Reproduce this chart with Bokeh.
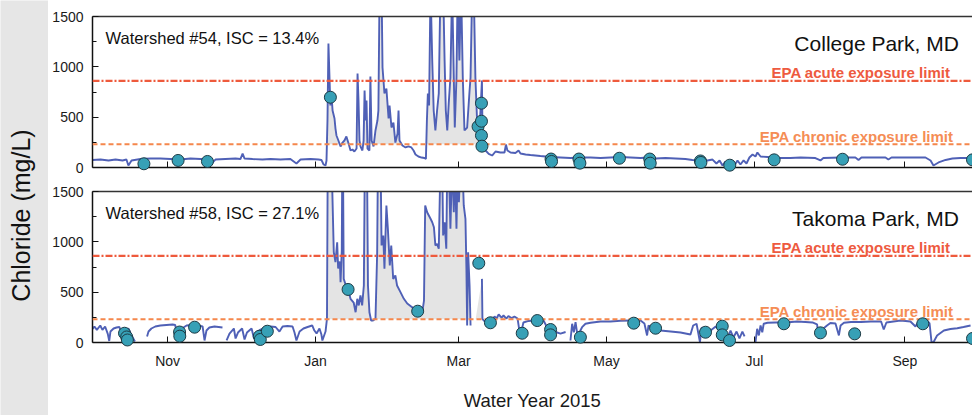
import numpy as np
from bokeh.plotting import figure
from bokeh.layouts import row, column
from bokeh.models import Range1d, FixedTicker, LinearAxis, Label, Span, ColumnDataSource
from bokeh.embed import file_html
from bokeh.resources import INLINE

FONT = "Liberation Sans"
NAN = float("nan")

# x values: days since 1 Oct 2014 (start of Water Year 2015)
month_ticks = [31, 92, 151, 212, 273, 335]
month_labels = ["Nov", "Jan", "Mar", "May", "Jul", "Sep"]

ACUTE = 860
CHRONIC = 230

# ---------- Watershed #54, College Park (continuous record, mg/L) ----------
cp_days = [0.0, 3.3, 6.6, 9.5, 12.4, 14.0, 14.8, 16.1, 19.8, 23.9, 28.0, 32.2, 36.3, 40.4, 44.5, 47.8,
           49.5, 50.7, 54.8, 59.0, 61.0, 61.9, 62.7, 66.0, 70.1, 73.4, 77.5, 81.6, 84.1, 85.8, 89.9, 93.2,
           94.4, 95.3, 96.1, 96.5,
           96.9, 97.3, 97.9, 98.1, 98.6, 99.0, 99.8, 100.2, 100.6, 101.4, 102.3, 103.1, 103.9, 104.7, 105.6,
           106.4, 107.2, 108.0, 108.9, 109.3, 109.7, 110.1, 110.5, 111.3, 111.8, 112.2, 112.6, 113.0, 113.4,
           114.2, 114.6, 115.1, 115.9, 116.7, 117.5, 117.9, 118.4, 119.2, 119.6, 120.4, 121.2, 122.1, 122.5,
           123.3, 124.1, 124.9, 125.8, 126.2, 126.6, 127.8, 129.1, 130.3, 131.5, 132.4, 133.2, 134.4, 135.7,
           136.9, 137.5,
           137.9, 138.3, 138.8, 139.4, 140.1, 140.7, 141.4, 142.1, 142.8, 143.5, 144.6, 145.2, 145.7, 146.3,
           146.9, 147.6, 148.3, 149.0, 149.4, 150.1, 150.6, 151.3, 152.0, 152.7, 153.4, 154.5, 155.5, 155.9,
           156.6, 157.2, 157.9, 158.6, 159.3, 160.0, 160.6, 160.9, 162.1, 163.4, 164.8,
           166.2, 168.2, 169.9, 170.5, 171.1, 172.4, 174.4, 175.7, 176.5, 178.6, 180.6, 184.7, 188.9, 193.0,
           197.1, 201.2, 205.4, 209.5, 213.6, 217.7, 221.9, 226.0, 229.3, 232.2, 236.3, 240.4, 244.5, 247.4,
           250.7, 253.6, 255.7, 257.3, 258.6, 259.8, 261.0, 262.3, 263.5, 264.7, 266.0, 267.2, 268.5, 269.7,
           270.9, 272.2, 273.4, 274.2, 275.5, 278.4, 281.6, 287.8, 292.0, 298.1, 300.2, 301.4, 308.5, 314.6,
           315.9, 317.1, 327.0, 328.2, 329.5, 337.3, 343.5, 345.6, 346.8, 348.9, 351.8, 354.6, 357.9, 360.4,
           362.9]
cp_cl = [75, 79, 70, 79, 70, 79, 20, 70, 84, 89, 89, 84, 79, 89, 84, 79,
         50, 79, 84, 89, 84, 139, 89, 84, 79, 84, 79, 84, 40, 79, 84, 79,
         75, 30, 20, 70,
         467, 1232, 765, 616, 705, 566, 487, 387, 318, 268, 209, 248, 268, 308, 238,
         169, 179, 159, 189, 934, 666, 268, 209, 169, 268, 765, 467, 666, 189,
         169, 904, 268, 209, 368, 467, 566, 1800, 1800, 993, 735, 785, 487, 616,
         397, 447, 248, 338, 566, 268, 219, 199, 209, 199, 169, 129, 109, 99,
         94, 84,
         467, 735, 616, 1800, 1063, 566, 368, 566, 735, 1800, 1800, 1063, 566, 368,
         636, 894, 1800, 894, 397, 894, 1800, 1063, 1800, 894, 368, 397, 765, 894,
         1800, 1800, 894, 467, 268, 566, 864, 169, 169, 136, 119,
         159, 149, 149, 228, 169, 149, 144, 169, 139, 129, 124, 114, 104, 99,
         94, 99, 99, 94, 99, 104, 99, 94, 99, 89, 94, 89, 84, 75,
         70, 70, 79, 40, 70, 20, 60, 10, 50, 20, 70, 30, 70, 40,
         99, 129, 109, 149, 109, 104, 94, 94, 99, 94, 70, 94, 99, 99,
         75, 99, 99, 79, 99, 99, 99, 70, 20, 50, 75, 89, 94, 94,
         99]
cp_sample_days = [21.2, 35.3, 47.4, 98.1, 159.0, 160.4, 160.4, 160.4, 160.6, 189.1, 189.3, 200.6, 201.0,
                  217.3, 229.8, 230.0, 250.7, 250.9, 262.8, 281.1, 309.3, 362.9]
cp_sample_cl = [37, 70, 60, 698, 407, 639, 460, 318, 212, 84, 60, 84, 43,
                92, 84, 43, 65, 50, 23, 76, 82, 76]

# ---------- Watershed #58, Takoma Park (continuous record with gaps, mg/L) ----------
tp_days = [0.0, 0.8, 1.8, 3.2, 4.1, 5.2, 6.3, 6.9, 7.4, 8.7, 9.9, 11.1, 12.0, 12.8, 13.6, 14.8, 16.1, 17.5,
           20.0,
           22.5, 23.1, 24.3, 25.9, 28.0, 30.5, 33.0, 34.1, 34.6, 35.5, 36.3, 37.5, 38.8, 41.2, 43.7, 45.4,
           46.2, 47.0, 48.2, 50.3, 52.0, 53.6,
           54.5,
           55.3, 56.5, 58.3, 59.0, 60.0, 61.7, 62.7, 63.7, 65.6, 66.6, 67.6, 69.3, 71.3, 73.4, 75.5, 77.1,
           78.4, 80.4, 82.5, 83.3, 84.1, 85.4, 87.0, 88.7, 90.6, 91.5, 92.4, 93.6, 94.4, 94.8, 96.1, 96.7,
           97.0, 98.6, 99.5, 100.2, 100.9, 101.3, 102.0, 102.3, 102.8, 103.0, 103.3, 103.6, 104.5, 105.4,
           106.4, 107.7, 108.5, 109.2, 109.8, 110.5, 111.2, 111.9, 112.3, 113.2, 113.6, 114.2, 114.9, 115.7,
           116.7, 117.4, 117.7, 118.8, 119.2, 119.9, 120.4, 121.2, 121.8, 122.6, 123.2, 124.0, 124.9, 125.6,
           127.0, 128.4, 129.8, 131.8, 133.9, 136.0, 136.7, 137.2, 138.0, 138.7, 139.4, 140.1, 140.8, 141.4,
           142.1, 142.8, 143.5, 144.2, 144.6, 145.2, 145.9, 146.3, 146.9, 147.6, 148.3, 149.0, 149.4, 150.1,
           150.6, 151.1, 151.8, 152.5, 153.1, 153.8, 154.2, 154.5, 154.9, 155.5, 155.9,
           158.0,
           160.6, 160.8, 161.4, 162.1, 162.5, 164.1, 165.8, 166.6, 167.5, 168.7, 169.5, 170.7, 171.5, 172.8,
           174.0, 175.3, 176.1, 176.7, 177.7, 179.8, 181.9, 183.9, 186.0, 187.5, 188.5, 189.7, 191.0, 193.0,
           195.1,
           196.0,
           197.1, 197.8, 198.5, 199.2, 200.1, 201.2, 201.9, 203.3, 205.4, 209.5, 213.6, 217.7, 221.9, 226.0,
           227.6, 228.7, 229.3, 230.9, 232.6, 234.3, 238.4, 242.5, 246.6, 247.7, 249.1, 250.5, 251.2, 252.9,
           254.9, 257.0, 258.2, 259.4, 260.6, 261.9, 263.1, 264.3, 265.6, 266.8, 268.0, 268.9,
           271.0,
           273.4, 274.1, 274.8, 275.5, 276.2, 276.8, 278.4, 281.6, 285.8, 290.6, 294.0, 296.9, 298.8, 299.5,
           300.2, 301.4, 302.9, 304.3, 306.4, 307.8, 308.5, 309.9, 312.8, 316.9, 321.0, 325.2, 326.3, 327.4,
           330.3, 333.2, 337.3, 339.4, 340.6, 344.2, 345.2, 346.0, 346.8, 348.3, 351.1, 353.8, 356.6, 359.2,
           362.1]
tp_cl = [134, 159, 126, 169, 126, 159, 86, 15, 109, 139, 149, 154, 89, 50, 119, 139, 70, 10,
         NAN,
         60, 109, 139, 159, 169, 174, 179, 174, 109, 60, 89, 149, 169, 174, 169, 159,
         20, 119, 149, 159, 154, 149,
         NAN,
         20, 89, 139, 40, 99, 139, 30, 99, 139, 40, 99, 129, 149, 159, 154, 109,
         159, 164, 159, 99, 20, 109, 139, 154, 169, 119, 89, 139, 79, 20, 109, 238,
         1800, 1800, 897, 798, 996, 735, 805, 599, 914, 1800, 1800, 632, 566, 527,
         434, 397, 301, 434, 368, 467, 368, 566, 1800, 1800, 566, 301, 218, 218,
         235, 897, 1800, 1800, 964, 1063, 732, 1361, 1133, 765, 964, 632, 666, 566,
         500, 434, 387, 351, 318, 301, 417, 1361, 1294, 1262, 1229, 1195, 1145, 964,
         980, 931, 1800, 1800, 1063, 1195, 931, 1800, 1800, 1130, 1800, 1294, 1800, 1130,
         1800, 1394, 1800, 1800, 1361, 1229, 732, 169, 897, 566, 169,
         NAN,
         632, 235, 218, 209, 199, 202, 258, 238, 278, 248, 268, 238, 263, 243,
         258, 238, 109, 89, 199, 214, 218, 224, 218, 149, 119, 99, 104, 89,
         104,
         NAN,
         20, 186, 102, 202, 53, 119, 152, 186, 196, 209, 209, 216, 218, 218,
         189, 70, 169, 149, 129, 119, 109, 99, 79, 169, 186, 3, 149, 129,
         119, 159, 129, 89, 129, 40, 119, 50, 109, 40, 109, 60,
         NAN,
         3, 136, 70, 169, 102, 186, 196, 199, 199, 209, 204, 199, 179, 37,
         109, 139, 169, 194, 189, 70, 169, 196, 204, 204, 209, 209, 129, 199,
         209, 218, 209, 159, 209, 218, 189, 3, 3, 70, 119, 134, 142, 154,
         169]
tp_sample_days = [13.2, 14.1, 14.4, 35.9, 36.0, 42.1, 68.8, 69.2, 72.1, 105.4, 134.1, 159.3, 164.1,
                  177.2, 183.4, 188.9, 188.9, 201.2, 223.2, 232.2, 252.8, 259.7, 259.7, 262.7,
                  285.1, 300.2, 314.3, 342.4, 362.9]
tp_sample_cl = [92, 55, 25, 104, 63, 152, 62, 30, 112, 527, 311, 788, 196,
                92, 218, 129, 76, 53, 192, 142, 102, 162, 76, 20,
                186, 96, 86, 186, 40]

LINE_C = "#4f60b6"
DOT_FILL = "#37a0b6"
DOT_LINE = "#1d3a44"
ACUTE_C = "#ee5a3c"
CHRONIC_C = "#f5874c"
ACUTE_T = "#ee5a40"
CHRONIC_T = "#f58d55"

X_END = 362.9


def panel(days, cl, sdays, scl, watershed, place, bottom):
    p = figure(frame_width=880, frame_height=151,
               x_range=Range1d(0, X_END), y_range=Range1d(0, 1500),
               output_backend="svg", toolbar_location=None,
               min_border_left=44, min_border_right=0,
               min_border_top=12 if bottom else 16,
               min_border_bottom=73 if bottom else 12,
               background_fill_color="white", border_fill_color="white",
               outline_line_color=None)
    p.grid.visible = False

    d = np.array(days, dtype=float)
    c = np.array(cl, dtype=float)
    top = np.where(np.isnan(c), CHRONIC, np.maximum(c, CHRONIC))
    src = ColumnDataSource(dict(d=d, c=c, top=top, base=np.full(len(d), CHRONIC)))
    p.varea(x="d", y1="base", y2="top", source=src, fill_color="#e4e4e4", fill_alpha=1.0)
    p.line(x="d", y="c", source=src, line_color=LINE_C, line_width=1.9)

    p.add_layout(Span(location=ACUTE, dimension="width", line_color=ACUTE_C,
                      line_width=2.2, line_dash="7 2 2 2"))
    p.add_layout(Span(location=CHRONIC, dimension="width", line_color=CHRONIC_C,
                      line_width=2.0, line_dash="5 3"))

    r = p.scatter(x=sdays, y=scl, size=12, fill_color=DOT_FILL, line_color=DOT_LINE, line_width=1)
    r.level = "overlay"

    # axes
    yax = p.yaxis[0]
    yax.ticker = FixedTicker(ticks=[0, 500, 1000, 1500], minor_ticks=[250, 750, 1250])
    xax = p.xaxis[0]
    xax.ticker = FixedTicker(ticks=month_ticks, minor_ticks=[])
    for ax in (xax, yax):
        ax.major_tick_in = 6
        ax.major_tick_out = 0
        ax.minor_tick_in = 4
        ax.minor_tick_out = 0
        ax.axis_line_color = "#111111"
        ax.axis_line_width = 1.5
        ax.major_tick_line_color = "#111111"
        ax.minor_tick_line_color = "#111111"
        ax.major_label_text_font = FONT
        ax.major_label_text_font_size = "14px"
        ax.major_label_text_color = "#1a1a1a"
    yax.major_label_standoff = 9
    if bottom:
        xax.major_label_overrides = {t: l for t, l in zip(month_ticks, month_labels)}
        xax.major_label_standoff = 10
        xax.axis_label = "Water Year 2015"
        xax.axis_label_text_font = FONT
        xax.axis_label_text_font_size = "18.5px"
        xax.axis_label_text_font_style = "normal"
        xax.axis_label_text_color = "#1a1a1a"
        xax.axis_label_standoff = 18
    else:
        xax.major_label_text_color = None
        xax.major_label_text_font_size = "1px"
        xax.major_label_standoff = 0

    topax = LinearAxis(ticker=FixedTicker(ticks=[]), major_tick_in=0, major_tick_out=0,
                       minor_tick_in=0, minor_tick_out=0, major_label_standoff=0,
                       major_label_text_color=None, major_label_text_font_size="1px",
                       axis_line_color="#333333", axis_line_width=1.5)
    p.add_layout(topax, "above")

    p.add_layout(Label(x=5.4, y=1282, text=watershed, text_font=FONT, text_font_size="16.5px",
                       text_align="left", text_baseline="alphabetic", text_color="#111111"))
    p.add_layout(Label(x=357.3, y=1234, text=place, text_font=FONT, text_font_size="21px",
                       text_align="right", text_baseline="alphabetic", text_color="#111111"))
    p.add_layout(Label(x=353.8, y=947, text="EPA acute exposure limit", text_font=FONT,
                       text_font_size="15px", text_font_style="bold",
                       text_align="right", text_baseline="alphabetic", text_color=ACUTE_T))
    p.add_layout(Label(x=355.1, y=305, text="EPA chronic exposure limit", text_font=FONT,
                       text_font_size="15px", text_font_style="bold",
                       text_align="right", text_baseline="alphabetic", text_color=CHRONIC_T))
    return p


p_top = panel(cp_days, cp_cl, cp_sample_days, cp_sample_cl,
              "Watershed #54, ISC = 13.4%", "College Park, MD", False)
p_bot = panel(tp_days, tp_cl, tp_sample_days, tp_sample_cl,
              "Watershed #58, ISC = 27.1%", "Takoma Park, MD", True)

strip = figure(width=48, height=415, x_range=Range1d(0, 48), y_range=Range1d(0, 415),
               output_backend="svg", toolbar_location=None, min_border=0,
               x_axis_location=None, y_axis_location=None,
               background_fill_color="#e6e6e6", border_fill_color="#e6e6e6",
               outline_line_color=None)
strip.grid.visible = False
strip.add_layout(Label(x=20, y=200, text="Chloride (mg/L)", angle=np.pi / 2, text_font=FONT,
                       text_font_size="25px", text_align="center", text_baseline="middle",
                       text_color="#111111"))

layout = row(strip, column(p_top, p_bot, spacing=0), spacing=0)

open("out.html", "w").write(file_html(layout, INLINE))
